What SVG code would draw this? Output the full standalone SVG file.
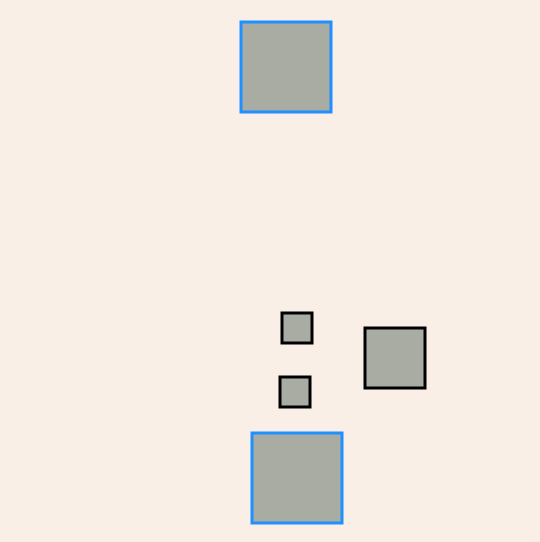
<svg xmlns="http://www.w3.org/2000/svg" width="540" height="542" viewBox="0 0 540 542">
<style>
.n{fill:#A9ACA2;stroke-width:3}
.b{stroke:#1E90FF}
.k{stroke:#000000}
</style>
<rect x="0" y="0" width="540" height="542" fill="#FAEFE6"/>
<g id="connectors"></g>
<g id="top"><rect class="n b" x="241" y="22" width="90" height="90"/></g>
<g id="small1"><rect class="n k" x="282" y="313" width="30" height="30"/></g>
<g id="right"><rect class="n k" x="365" y="328" width="60" height="60"/></g>
<g id="small2"><rect class="n k" x="280" y="377" width="30" height="30"/></g>
<g id="bottom"><rect class="n b" x="252" y="433" width="90" height="90"/></g>
</svg>
